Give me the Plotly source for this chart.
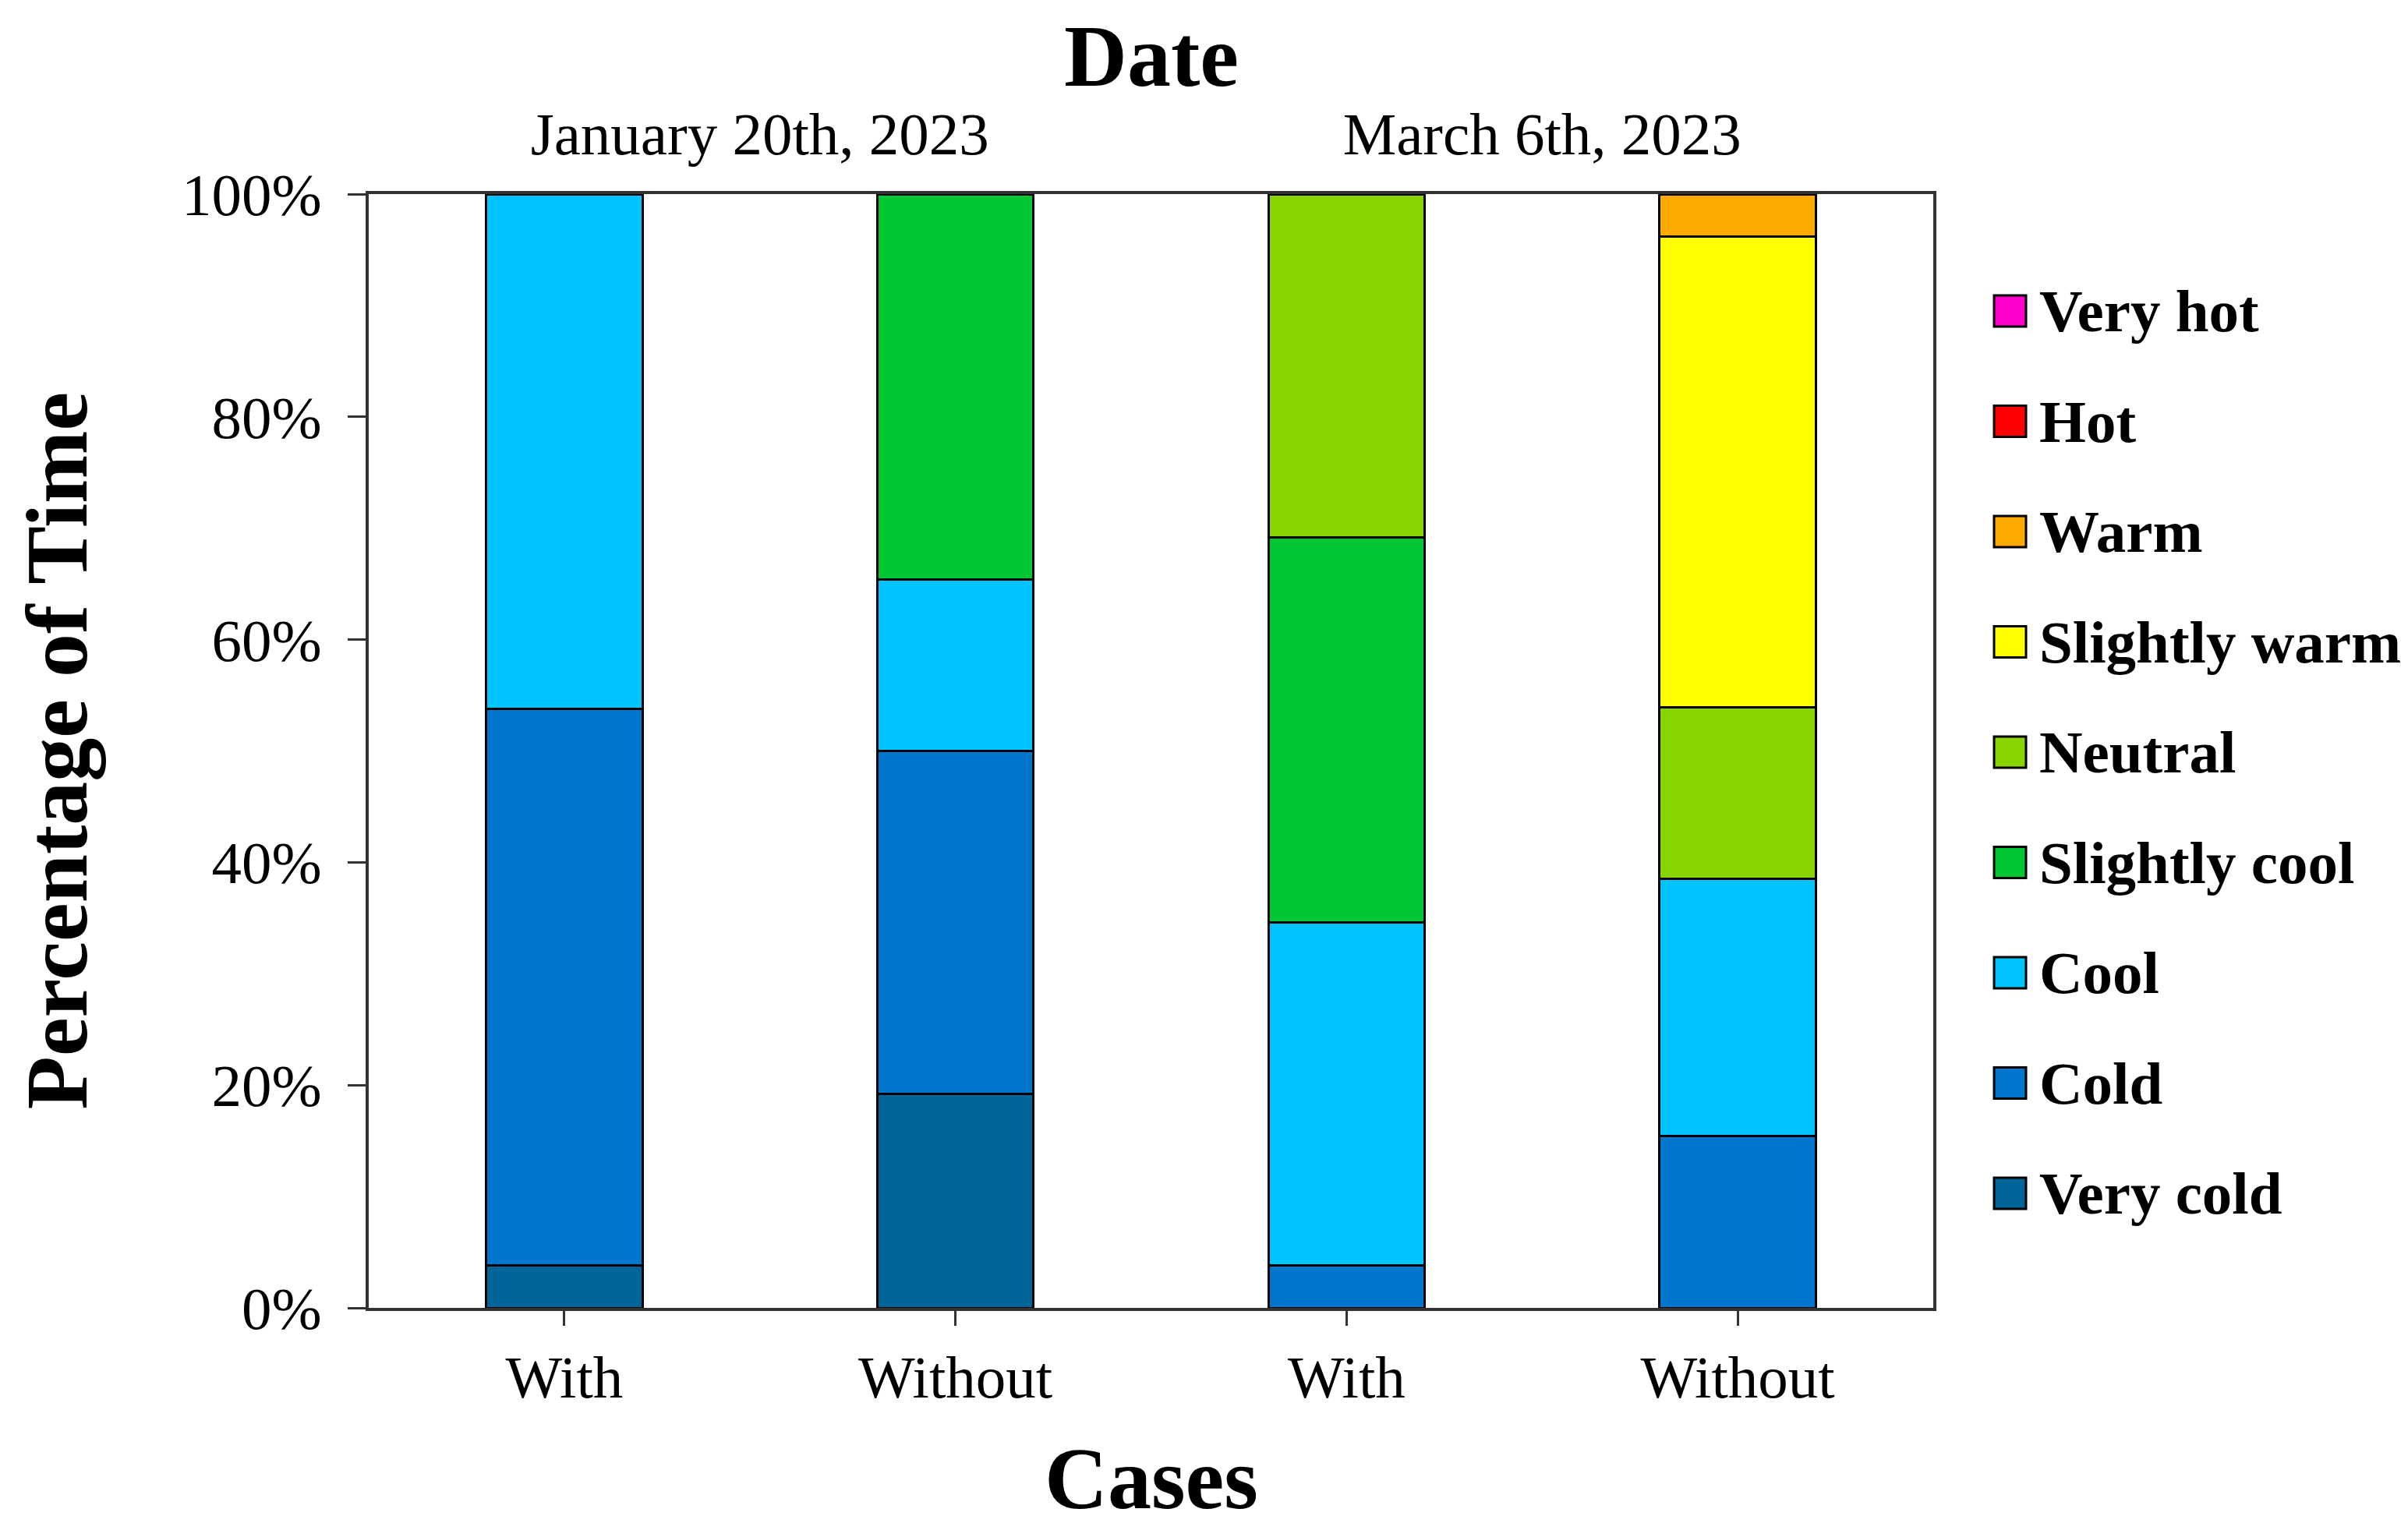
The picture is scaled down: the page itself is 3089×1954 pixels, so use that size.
import plotly.graph_objects as go

# ---------------- data ----------------
cases = ["With", "Without", "With", "Without"]
case_pos = [0, 1, 2, 3]
dates = ["January 20th, 2023", "March 6th, 2023"]
date_pos = [0.5, 2.5]

# stacking order: bottom -> top
categories = ["Very cold", "Cold", "Cool", "Slightly cool", "Neutral",
              "Slightly warm", "Warm", "Hot", "Very hot"]
colors = ["#006699", "#0077CC", "#00C3FF", "#00C832", "#88D400",
          "#FFFF00", "#FFAA00", "#FF0000", "#FF00CC"]

very_cold     = [3.8, 19.2, 0.0, 0.0]
cold          = [50.0, 30.8, 3.8, 15.4]
cool          = [46.2, 15.4, 30.8, 23.1]
slightly_cool = [0.0, 34.6, 34.6, 0.0]
neutral       = [0.0, 0.0, 30.8, 15.4]
slightly_warm = [0.0, 0.0, 0.0, 42.3]
warm          = [0.0, 0.0, 0.0, 3.8]
hot           = [0.0, 0.0, 0.0, 0.0]
very_hot      = [0.0, 0.0, 0.0, 0.0]
series = [very_cold, cold, cool, slightly_cool, neutral,
          slightly_warm, warm, hot, very_hot]

y_ticks = [0, 20, 40, 60, 80, 100]
y_tick_labels = ["0%", "20%", "40%", "60%", "80%", "100%"]

x_title = "Cases"
x2_title = "Date"
y_title = "Percentage of Time"

FONT = "Liberation Serif, Times New Roman, serif"

fig = go.Figure()
for name, vals, col in zip(categories, series, colors):
    fig.add_trace(go.Bar(
        x=case_pos, y=vals, name=name, width=0.4,
        marker=dict(color=col, line=dict(color="#000000", width=3)),
        showlegend=False,
    ))

# invisible trace to carry the top (date) axis
fig.add_trace(go.Scatter(x=date_pos, y=[None, None], xaxis="x2", yaxis="y",
                         mode="markers", showlegend=False, hoverinfo="skip"))

W, H = 3089, 1954
L, R, T, B = 465, 617, 241, 284
plot_w = W - L - R
plot_h = H - T - B

fig.update_layout(
    width=W, height=H,
    margin=dict(l=L, r=R, t=T, b=B, pad=0),
    paper_bgcolor="white", plot_bgcolor="white",
    barmode="stack",
    font=dict(family=FONT, color="black", size=77),
    xaxis=dict(
        range=[-0.5, 3.5], tickvals=case_pos, ticktext=cases,
        ticks="outside", ticklen=19, tickwidth=3, tickcolor="#333333",
        showline=True, linewidth=4, linecolor="#333333", mirror=True,
        showgrid=False, zeroline=False, automargin=False,
        tickfont=dict(size=77, family=FONT),
        ticklabelstandoff=0,
    ),
    xaxis2=dict(
        overlaying="x", side="top", range=[-0.5, 3.5],
        tickvals=date_pos, ticktext=dates, ticks="",
        showline=False, showgrid=False, zeroline=False, automargin=False,
        tickfont=dict(size=77, family=FONT),
        ticklabelstandoff=35,
    ),
    yaxis=dict(
        range=[0, 100], tickvals=y_ticks, ticktext=y_tick_labels,
        ticks="outside", ticklen=23, tickwidth=3, tickcolor="#333333",
        showline=True, linewidth=4, linecolor="#333333", mirror=True,
        showgrid=False, zeroline=False, automargin=False,
        tickfont=dict(size=77, family=FONT),
        ticklabelstandoff=18,
    ),
)

# axis titles (placed as annotations so they can sit where the reference has them)
title_font = dict(size=112, family=FONT, color="black")
fig.add_annotation(xref="paper", yref="paper", x=0.5, y=(H - B - 1889) / plot_h,
                   xanchor="center", yanchor="middle", showarrow=False,
                   text=f"<b>{x_title}</b>", font=title_font)
fig.add_annotation(xref="paper", yref="paper", x=0.5, y=(H - B - 64) / plot_h,
                   xanchor="center", yanchor="middle", showarrow=False,
                   text=f"<b>{x2_title}</b>", font=title_font)
fig.add_annotation(xref="paper", yref="paper", x=(65 - L) / plot_w, y=0.5,
                   xanchor="center", yanchor="middle", showarrow=False,
                   textangle=-90, text=f"<b>{y_title}</b>", font=title_font)

# custom legend (top: Very hot ... bottom: Very cold)
sym_x0 = (2550 - L) / plot_w
sym_x1 = (2591 - L) / plot_w
txt_x = (2606 - L) / plot_w
row_top = (H - B - 391) / plot_h
row_step = 141.5 / plot_h
half_h = 20 / plot_h
for i, (name, col) in enumerate(zip(categories[::-1], colors[::-1])):
    yc = row_top - i * row_step
    fig.add_shape(type="rect", xref="paper", yref="paper",
                  x0=sym_x0, x1=sym_x1, y0=yc - half_h, y1=yc + half_h,
                  fillcolor=col, line=dict(color="#000000", width=3))
    fig.add_annotation(xref="paper", yref="paper", x=txt_x, y=yc,
                       xanchor="left", yanchor="middle", showarrow=False,
                       text=f"<b>{name}</b>",
                       font=dict(size=77, family=FONT, color="black"))

fig.write_html("out.html")
